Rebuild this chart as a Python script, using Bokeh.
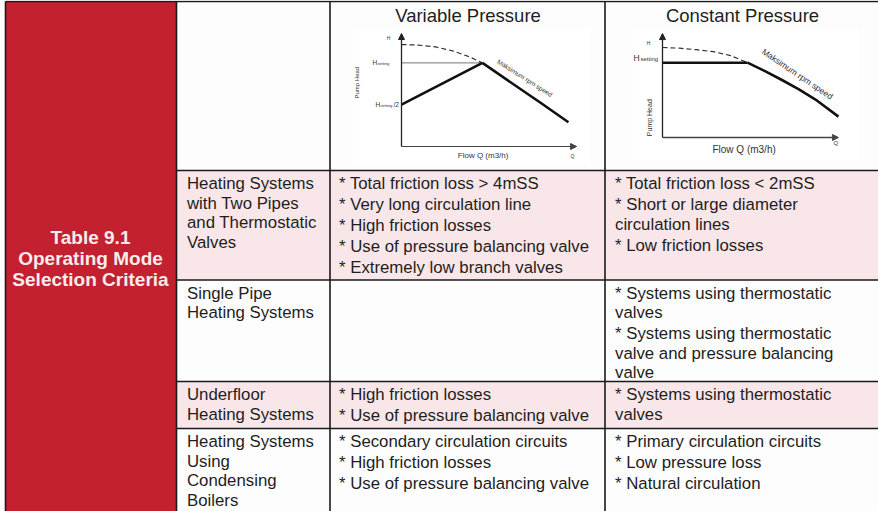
from bokeh.plotting import figure
from bokeh.models import Range1d, Arrow, NormalHead
from bokeh.core.properties import value
from bokeh.embed import file_html
from bokeh.resources import INLINE

# ---------------- table content ----------------
title_lines = ["Table 9.1", "Operating Mode", "Selection Criteria"]
column_headers = ["Variable Pressure", "Constant Pressure"]
row_labels = [
    ["Heating Systems", "with Two Pipes", "and Thermostatic", "Valves"],
    ["Single Pipe", "Heating Systems"],
    ["Underfloor", "Heating Systems"],
    ["Heating Systems", "Using", "Condensing", "Boilers"],
]
variable_items = [
    [["* Total friction loss > 4mSS"], ["* Very long circulation line"], ["* High friction losses"],
     ["* Use of pressure balancing valve"], ["* Extremely low branch valves"]],
    [],
    [["* High friction losses"], ["* Use of pressure balancing valve"]],
    [["* Secondary circulation circuits"], ["* High friction losses"], ["* Use of pressure balancing valve"]],
]
constant_items = [
    [["* Total friction loss < 2mSS"], ["* Short or large diameter", "circulation lines"], ["* Low friction losses"]],
    [["* Systems using thermostatic", "valves"], ["* Systems using thermostatic", "valve and pressure balancing", "valve"]],
    [["* Systems using thermostatic", "valves"]],
    [["* Primary circulation circuits"], ["* Low pressure loss"], ["* Natural circulation"]],
]
row_shaded = [True, False, True, False]

# ---------------- pump curve data (Q, H in arbitrary units) ----------------
# Variable pressure chart
vp_axis_q_end = 10.3
vp_axis_h_end = 10.27
vp_dash_q = [0, 1, 2, 3, 4, 4.76]
vp_dash_h = [9.27, 9.22, 9.05, 8.7, 8.15, 7.6]
vp_setting_h = 7.6
vp_half_h = 3.8
vp_knee_q = 4.76
vp_max_q = [4.76, 6.5, 8.2, 9.82]
vp_max_h = [7.6, 5.75, 3.95, 2.2]
# Constant pressure chart
cp_axis_q_end = 10.35
cp_axis_h_end = 9.45
cp_dash_q = [0, 1, 2, 3, 4, 5.0]
cp_dash_h = [8.18, 8.12, 7.98, 7.8, 7.45, 6.8]
cp_setting_h = 6.8
cp_knee_q = 5.0
cp_max_q = [5.0, 6.0, 7.0, 8.0, 9.0, 10.35]
cp_max_h = [6.8, 6.05, 5.25, 4.4, 3.45, 1.9]

# ---------------- layout (page pixels) ----------------
FONT = value("Liberation Sans")
X0, X1 = 0, 878
Y0, Y1 = 0, 511
col_x = [5, 176, 329.5, 604.5, 900]
row_y = [1, 170, 279.5, 381, 428, 520]
RED = "#c32030"
PINK = "#f9e6e8"
TXT = "#1e1e1e"
BORDER = "#1a1a1a"

p = figure(width=X1 - X0, height=Y1 - Y0, x_range=Range1d(X0, X1), y_range=Range1d(Y1, Y0),
           output_backend="svg", toolbar_location=None, title=None,
           x_axis_location=None, y_axis_location=None, min_border=0)
p.outline_line_color = None
p.background_fill_color = "#fdfdfd"
p.border_fill_color = "white"
p.grid.grid_line_color = None

# extra ranges for the two small charts (origin px, px per unit)
def add_chart_ranges(name, ox, oy, sx, sy):
    p.extra_x_ranges[name + "_x"] = Range1d((X0 - ox) / sx, (X1 - ox) / sx)
    p.extra_y_ranges[name + "_y"] = Range1d((oy - Y1) / sy, (oy - Y0) / sy)

add_chart_ranges("vp", 401, 146, 17, 11)
add_chart_ranges("cp", 662, 137, 17, 11)

# page margin strip + backgrounds
p.quad(left=[0], right=[X1], top=[0], bottom=[Y1], fill_color="white", line_color=None)
p.quad(left=[col_x[0]], right=[col_x[-1]], top=[row_y[0]], bottom=[row_y[-1]], fill_color="#fdfdfd", line_color=None)
p.quad(left=[col_x[0]], right=[col_x[1]], top=[row_y[0]], bottom=[row_y[-1]], fill_color=RED, line_color=None)
for i, shaded in enumerate(row_shaded):
    if shaded:
        p.quad(left=[col_x[1]], right=[col_x[-1]], top=[row_y[i + 1]], bottom=[row_y[i + 2]],
               fill_color=PINK, line_color=None)

# chart boxes
p.quad(left=[352, 632], right=[589, 858], top=[28, 28], bottom=[164, 160], fill_color="white", line_color=None)

# ---- variable pressure chart ----
vk = dict(x_range_name="vp_x", y_range_name="vp_y")
p.line(vp_dash_q, vp_dash_h, line_color="#333333", line_width=1.2, line_dash="5 3", **vk)
p.line([0, vp_knee_q], [vp_setting_h, vp_setting_h], line_color="#777777", line_width=1, **vk)
p.line([0, vp_knee_q], [vp_half_h, vp_setting_h], line_color="#111111", line_width=2.6, **vk)
p.line(vp_max_q, vp_max_h, line_color="#111111", line_width=2.6, **vk)
p.add_layout(Arrow(end=NormalHead(size=6, fill_color="#222222", line_color="#222222"), x_start=0, y_start=0,
                   x_end=0, y_end=vp_axis_h_end, line_color="#222222", line_width=1.3, **vk))
p.add_layout(Arrow(end=NormalHead(size=6, fill_color="#444444", line_color="#444444"), x_start=0, y_start=0,
                   x_end=vp_axis_q_end, y_end=0, line_color="#444444", line_width=1.1, **vk))
tk = dict(text_font=FONT, text_color="#333333", text_baseline="middle")
p.text(x=[0], y=[vp_axis_h_end], text=["H"], x_offset=-13, y_offset=4, text_font_size="5px", text_align="center", **tk, **vk)
p.text(x=[0], y=[vp_setting_h], text=["H"], x_offset=-29, text_font_size="6.5px", text_align="left", **tk, **vk)
p.text(x=[0], y=[vp_setting_h], text=["setting"], x_offset=-24, y_offset=1, text_font_size="4px", text_align="left", **tk, **vk)
p.text(x=[0], y=[vp_half_h], text=["H"], x_offset=-26, text_font_size="6.5px", text_align="left", **tk, **vk)
p.text(x=[0], y=[vp_half_h], text=["setting"], x_offset=-21, y_offset=1, text_font_size="4px", text_align="left", **tk, **vk)
p.text(x=[0], y=[vp_half_h], text=["/2"], x_offset=-8, text_font_size="6.5px", text_align="left", **tk, **vk)
p.text(x=[0], y=[5.8], text=["Pump Head"], x_offset=-45, text_font_size="6px", text_align="center", angle=90,
       angle_units="deg", **tk, **vk)
p.text(x=[4.8], y=[0], text=["Flow Q (m3/h)"], y_offset=9, text_font_size="8px", text_align="center", **tk, **vk)
p.text(x=[10.05], y=[0], text=["Q"], y_offset=9, text_font_size="5px", text_align="center", **tk, **vk)
p.text(x=[7.26], y=[6.23], text=["Maksimum rpm speed"], text_font_size="6.5px", text_align="center", angle=-32.5,
       angle_units="deg", **tk, **vk)

# ---- constant pressure chart ----
ck = dict(x_range_name="cp_x", y_range_name="cp_y")
p.line(cp_dash_q, cp_dash_h, line_color="#333333", line_width=1.2, line_dash="5 3", **ck)
p.line([0, cp_knee_q], [cp_setting_h, cp_setting_h], line_color="#111111", line_width=2.6, **ck)
p.line(cp_max_q, cp_max_h, line_color="#111111", line_width=2.6, **ck)
p.add_layout(Arrow(end=NormalHead(size=6, fill_color="#222222", line_color="#222222"), x_start=0, y_start=0,
                   x_end=0, y_end=cp_axis_h_end, line_color="#222222", line_width=1.3, **ck))
p.add_layout(Arrow(end=NormalHead(size=6, fill_color="#444444", line_color="#444444"), x_start=0, y_start=0,
                   x_end=cp_axis_q_end, y_end=0, line_color="#444444", line_width=1.3, **ck))
p.text(x=[0], y=[cp_axis_h_end], text=["H"], x_offset=-14, y_offset=9, text_font_size="5px", text_align="center", **tk, **ck)
p.text(x=[0], y=[cp_setting_h], text=["H"], x_offset=-29, y_offset=-5, text_font_size="8.5px", text_align="left", **tk, **ck)
p.text(x=[0], y=[cp_setting_h], text=["setting"], x_offset=-22, y_offset=-4, text_font_size="6px", text_align="left", **tk, **ck)
p.text(x=[0], y=[1.8], text=["Pump Head"], x_offset=-13, text_font_size="7px", text_align="center", angle=90,
       angle_units="deg", **tk, **ck)
p.text(x=[4.8], y=[0], text=["Flow Q (m3/h)"], y_offset=12, text_font_size="10px", text_align="center", **tk, **ck)
p.text(x=[10.2], y=[0], text=["Q"], y_offset=5, text_font_size="6px", text_align="center", **tk, **ck)
p.text(x=[7.94], y=[5.77], text=["Maksimum rpm speed"], text_font_size="8.5px", text_align="center", angle=-34,
       angle_units="deg", **tk, **ck)

# ---------------- texts ----------------
p.text(x=[90] * 3, y=[237, 258, 279], text=title_lines, text_font=FONT, text_font_size="19px",
       text_font_style="bold", text_color="#f8eced", text_align="center", text_baseline="middle")
p.text(x=[467.5, 742], y=[15, 15], text=column_headers, text_font=FONT, text_font_size="18.5px",
       text_color=TXT, text_align="center", text_baseline="middle")


def cell_lines(x, top, items, offset=13):
    xs, ys, ts = [], [], []
    y = top + offset
    for i, item in enumerate(items):
        if i > 0:
            y += 21
        for j, line in enumerate(item):
            if j > 0:
                y += 19.5
            xs.append(x); ys.append(y); ts.append(line)
    return xs, ys, ts

X_LAB, X_VAR, X_CON = 186.5, 338.5, 614.5
allx, ally, allt = [], [], []
for r in range(4):
    top = row_y[r + 1]
    for x, items in ((X_LAB, [row_labels[r]]), (X_VAR, variable_items[r]), (X_CON, constant_items[r])):
        xs, ys, ts = cell_lines(x, top, items)
        allx += xs; ally += ys; allt += ts
p.text(x=allx, y=ally, text=allt, text_font=FONT, text_font_size="16.8px", text_color=TXT,
       text_align="left", text_baseline="middle")

# ---------------- borders ----------------
p.segment(x0=[col_x[0]], y0=[row_y[0]], x1=[col_x[-1]], y1=[row_y[0]], line_color=BORDER, line_width=1.6)
p.segment(x0=col_x[0:4], y0=[row_y[0]] * 4, x1=col_x[0:4], y1=[row_y[-1]] * 4, line_color=BORDER, line_width=1.6)
p.segment(x0=[col_x[1]] * 4, y0=row_y[1:5], x1=[col_x[-1]] * 4, y1=row_y[1:5], line_color=BORDER, line_width=1.6)

open("out.html", "w").write(file_html(p, INLINE))
